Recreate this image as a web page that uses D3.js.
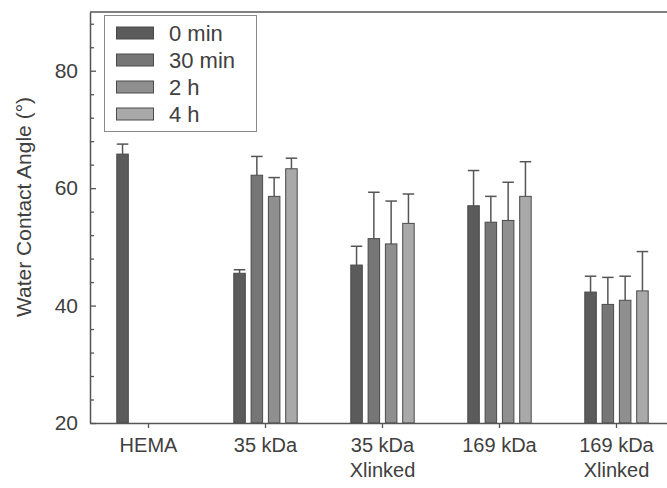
<!DOCTYPE html>
<html lang="en">
<head>
  <meta charset="UTF-8">
  <title>Water Contact Angle</title>
  <script src="https://cdn.jsdelivr.net/npm/d3@7"></script>
  <style>
    body { margin: 0; background: #fff; }
    svg { display: block; font-family: 'Liberation Sans', Arial, sans-serif; }
  </style>
</head>
<body>
<svg></svg>
<script>
  const width = 667, height = 488
  const margin = {top: 12, left: 90, bottom: 65}

  // data
  const categories = ['HEMA', '35 kDa', '35 kDa|Xlinked', '169 kDa', '169 kDa|Xlinked']
  const series = ['0 min', '30 min', '2 h', '4 h']
  const mean0 = [65.8, 45.5, 46.9, 57.0, 42.3]
  const mean30 = [null, 62.2, 51.4, 54.2, 40.2]
  const mean2h = [null, 58.6, 50.5, 54.5, 40.9]
  const mean4h = [null, 63.3, 54.0, 58.6, 42.5]
  const err0 = [1.7, 0.6, 3.2, 6.0, 2.7]
  const err30 = [null, 3.2, 7.9, 4.4, 4.6]
  const err2h = [null, 3.2, 7.3, 6.5, 4.1]
  const err4h = [null, 1.8, 5.0, 5.9, 6.7]
  const majorTicks = [20, 40, 60, 80]

  const means = [mean0, mean30, mean2h, mean4h]
  const errs = [err0, err30, err2h, err4h]
  const colors = ['#5b5b5b', '#767676', '#8f8f8f', '#a9a9a9']
  const ink = '#404040'

  const rows = []
  categories.forEach((c, i) => {
    series.forEach((s, j) => {
      if (means[j][i] != null) rows.push({cat: c, ser: s, v: means[j][i], e: errs[j][i], k: j})
    })
  })

  const svg = d3.select('svg')
      .attr('width', width)
      .attr('height', height)

  const x = d3.scaleBand()
      .domain(categories)
      .range([margin.left, margin.left + 117 * categories.length])

  const xs = d3.scaleBand()
      .domain(series)
      .range([-31.7, 31.7])
      .paddingInner(0.335)

  const y = d3.scaleLinear()
      .domain([20, 90])
      .range([height - margin.bottom, margin.top])

  const cx = d => x(d.cat) + x.bandwidth() / 2 + xs(d.ser)

  // bars
  svg.append('g')
      .selectAll('rect')
      .data(rows)
      .join('rect')
      .attr('x', d => cx(d))
      .attr('y', d => y(d.v))
      .attr('width', xs.bandwidth())
      .attr('height', d => y(20) - y(d.v))
      .attr('fill', d => colors[d.k])
      .attr('stroke', '#4a4a4a')
      .attr('stroke-width', 1)

  // upper error bars only
  const eb = svg.append('g')
      .attr('stroke', '#555')
      .attr('stroke-width', 1.5)
  eb.selectAll('.whisker')
      .data(rows)
      .join('line')
      .attr('x1', d => cx(d) + xs.bandwidth() / 2)
      .attr('x2', d => cx(d) + xs.bandwidth() / 2)
      .attr('y1', d => y(d.v))
      .attr('y2', d => y(d.v + d.e))
  eb.selectAll('.cap')
      .data(rows)
      .join('line')
      .attr('x1', d => cx(d))
      .attr('x2', d => cx(d) + xs.bandwidth())
      .attr('y1', d => y(d.v + d.e))
      .attr('y2', d => y(d.v + d.e))

  // top frame
  svg.append('line')
      .attr('x1', margin.left).attr('x2', width)
      .attr('y1', y(90)).attr('y2', y(90))
      .attr('stroke', '#555').attr('stroke-width', 1.5)

  // Y axis, ticks inside
  svg.append('g')
      .attr('transform', `translate(${margin.left},0)`)
      .call(d3.axisLeft(y).tickValues(d3.range(20, 90, 4).filter(v => v % 20)).tickSize(-4).tickFormat(''))
      .call(g => g.select('.domain').remove())
      .call(g => g.selectAll('line').attr('stroke', '#555').attr('stroke-width', 1.3))

  svg.append('g')
      .attr('transform', `translate(${margin.left},0)`)
      .call(d3.axisLeft(y).tickValues(majorTicks).tickSize(-6).tickPadding(12).tickSizeOuter(0))
      .call(g => g.select('.domain').attr('stroke', '#555').attr('stroke-width', 1.5))
      .call(g => g.selectAll('line').attr('stroke', '#555').attr('stroke-width', 1.3))
      .call(g => g.selectAll('text').attr('font-size', 21).attr('fill', ink))

  // X axis
  const xAxis = svg.append('g')
      .attr('transform', `translate(0,${y(20)})`)
      .call(d3.axisBottom(x).tickSize(5).tickSizeOuter(0).tickFormat(''))
      .call(g => g.select('.domain').attr('stroke', '#555').attr('stroke-width', 1.5))
      .call(g => g.selectAll('line').attr('stroke', '#555').attr('stroke-width', 1.3))

  xAxis.selectAll('.tick')
      .append('text')
      .attr('fill', ink)
      .attr('font-size', 20)
      .attr('text-anchor', 'middle')
      .selectAll('tspan')
      .data(d => d.split('|'))
      .join('tspan')
      .attr('x', 0)
      .attr('y', (d, i) => 29 + i * 25)
      .text(d => d)

  // Y title
  svg.append('text')
      .attr('transform', `translate(31,207) rotate(-90)`)
      .attr('text-anchor', 'middle')
      .attr('font-size', 21)
      .attr('fill', ink)
      .text('Water Contact Angle (°)')

  // legend
  const legend = svg.append('g')
  legend.append('rect')
      .attr('x', 104.5).attr('y', 15.5)
      .attr('width', 152).attr('height', 116)
      .attr('fill', '#fff')
      .attr('stroke', '#8a8a8a')
      .attr('stroke-width', 1)
  const item = legend.selectAll('.item')
      .data(series)
      .join('g')
      .attr('transform', (d, i) => `translate(0,${33 + i * 27})`)
  item.append('rect')
      .attr('x', 116.5).attr('y', -6)
      .attr('width', 37).attr('height', 12)
      .attr('fill', (d, i) => colors[i])
      .attr('stroke', '#4a4a4a')
  item.append('text')
      .attr('x', 169)
      .attr('y', 7.5)
      .attr('font-size', 22)
      .attr('fill', ink)
      .text(d => d)
</script>
</body>
</html>
